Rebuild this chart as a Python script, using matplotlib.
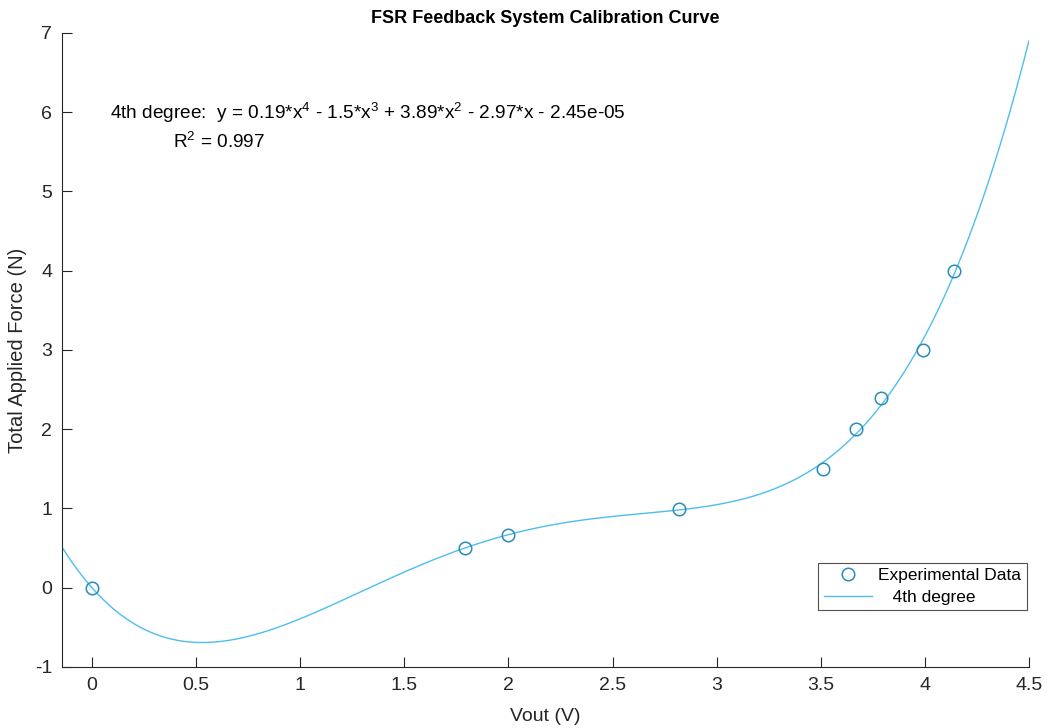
import numpy as np
import matplotlib
matplotlib.use("Agg")
import matplotlib.pyplot as plt

# measured calibration points
vout = [0.0, 1.79, 2.0, 2.82, 3.51, 3.67, 3.79, 3.99, 4.14]
force = [0.0, 0.5, 0.67, 0.99, 1.5, 2.0, 2.4, 3.0, 4.0]

x_ticks = [0, 0.5, 1, 1.5, 2, 2.5, 3, 3.5, 4, 4.5]
y_ticks = [-1, 0, 1, 2, 3, 4, 5, 6, 7]

plt.rcParams['font.family'] = ['Liberation Sans', 'DejaVu Sans']
plt.rcParams['axes.unicode_minus'] = False
plt.rcParams['mathtext.fontset'] = 'custom'
plt.rcParams['mathtext.rm'] = 'Liberation Sans'

coef = np.polyfit(vout, force, 4)
xs = np.linspace(-0.144, 4.5, 400)
ys = np.polyval(coef, xs)

fig = plt.figure(figsize=(10.47, 7.28), dpi=100)
ax = fig.add_axes([0.0592, 0.0838, 0.9236, 0.8709])

ax.plot(vout, force, 'o', mfc='none', mec='#2a8cb8', ms=9, mew=1.1,
        label='Experimental Data', zorder=3)
ax.plot(xs, ys, '-', color='#4dbeee', lw=1.0, label='   4th degree')

ax.set_xlim(-0.144, 4.5)
ax.set_ylim(-1, 7)
ax.set_xticks(x_ticks)
ax.set_xticklabels([f'{t:g}' for t in x_ticks])
ax.set_yticks(y_ticks)

for s in ['top', 'right']:
    ax.spines[s].set_visible(False)
for s in ['left', 'bottom']:
    ax.spines[s].set_color('#262626')
    ax.spines[s].set_linewidth(0.8)
ax.tick_params(direction='in', length=7, width=0.8, colors='#262626',
               labelsize=14, pad=7)

ax.set_xlabel('Vout (V)', fontsize=14, color='#262626', labelpad=10)
ax.set_ylabel('Total Applied Force (N)', fontsize=14.5, color='#262626', labelpad=6)
ax.set_title('FSR Feedback System Calibration Curve', fontsize=13,
             fontweight='bold', pad=7)

ax.text(0.085, 6.0, r'4th degree:  y = 0.19*x$^{\mathrm{4}}$ - 1.5*x$^{\mathrm{3}}$ + 3.89*x$^{\mathrm{2}}$ - 2.97*x - 2.45e-05',
        fontsize=13.7, va='center', ha='left')
ax.text(0.39, 5.63, r'R$^{\mathrm{2}}$ = 0.997', fontsize=13.7, va='center', ha='left')

leg = ax.legend(loc='lower right', bbox_to_anchor=(0.9975, 0.09), fontsize=12.5,
                frameon=True, fancybox=False, edgecolor='#262626',
                borderpad=0.3, labelspacing=0.35, handlelength=2.8,
                handletextpad=0.35, borderaxespad=0)
leg.get_frame().set_linewidth(0.8)

fig.savefig('out.png', dpi=100)
